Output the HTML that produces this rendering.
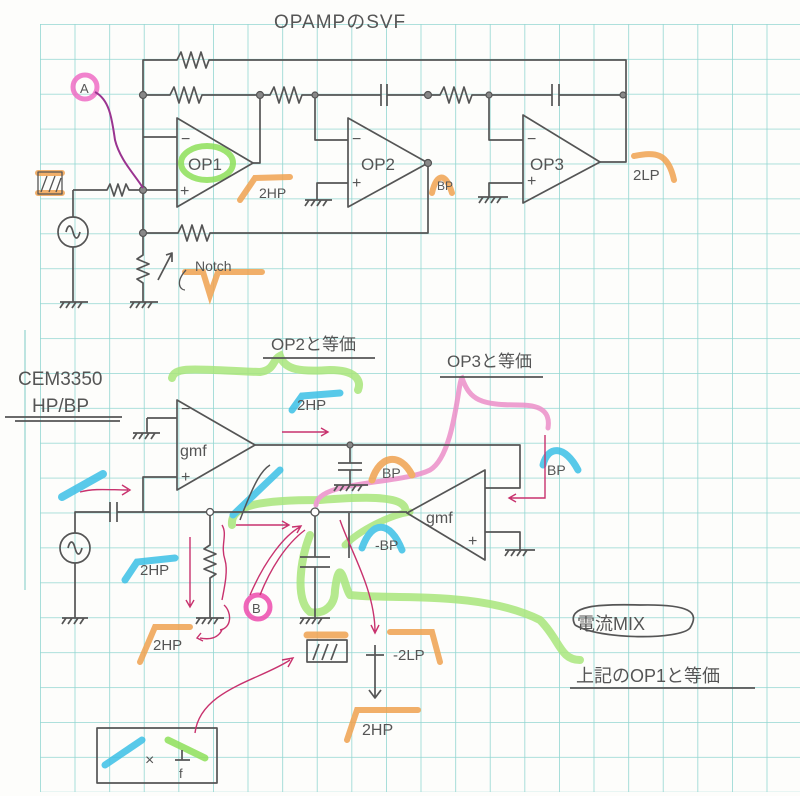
<!DOCTYPE html>
<html><head><meta charset="utf-8"><style>
html,body{margin:0;padding:0;background:#fdfdfb;}
svg{display:block}
text{font-family:"Liberation Sans","Noto Sans CJK JP",sans-serif;fill:#555;}
</style></head><body>
<svg width="800" height="796" viewBox="0 0 800 796" xmlns="http://www.w3.org/2000/svg">
<defs>
<pattern id="g" x="40" y="24" width="34.6" height="34.9" patternUnits="userSpaceOnUse">
<path d="M0 0V34.9M0 0H34.6" stroke="#93d6d2" stroke-width="1.6" fill="none"/>
</pattern>
</defs>
<rect x="40" y="24" width="760" height="768" fill="url(#g)"/>
<line x1="25" y1="330" x2="25" y2="590" stroke="#a8dcd8" stroke-width="1.5"/>

<g fill="none" stroke-linecap="round" opacity="0.85">
<path d="M172 378 C175 365 200 370 260 372 C275 370 272 360 280 356 C285 370 300 372 330 370 C355 370 362 380 358 390" stroke="#a9e67c" stroke-width="8"/>
<path d="M232 525 C230 505 260 500 320 500 C360 497 400 495 405 508" stroke="#a9e67c" stroke-width="8"/>
<path d="M345 545 C360 530 390 515 410 512" stroke="#a9e67c" stroke-width="7"/>
<path d="M310 535 C300 560 295 600 310 612 C325 615 335 605 335 590 C340 550 345 590 350 595 C390 600 480 590 540 620 C560 640 560 660 580 660" stroke="#a9e67c" stroke-width="8"/>
<path d="M316 505 C318 480 400 485 430 470 C455 455 458 380 462 378 C470 400 480 405 520 405 C545 405 550 415 548 428" stroke="#ec8fc9" stroke-width="5"/>
<ellipse cx="207" cy="163" rx="26" ry="17" stroke="#8ee05a" stroke-width="6"/>
<path d="M62 497 L103 474" stroke="#3cc0e6" stroke-width="8"/>
<path d="M292 410 L302 396 L340 393" stroke="#3cc0e6" stroke-width="7"/>
<path d="M125 580 L137 562 L175 558" stroke="#3cc0e6" stroke-width="7"/>
<path d="M233 515 L280 470" stroke="#3cc0e6" stroke-width="7"/>
<path d="M543 465 C548 445 565 445 578 470" stroke="#3cc0e6" stroke-width="7"/>
<path d="M362 548 C372 520 390 520 402 550" stroke="#3cc0e6" stroke-width="7"/>
<path d="M372 480 C380 455 400 452 412 475" stroke="#f0a250" stroke-width="7"/>
<path d="M38 173 H62 M38 193 H62" stroke="#f0a250" stroke-width="6"/>
<path d="M240 200 L255 178 L290 177" stroke="#f0a250" stroke-width="6"/>
<path d="M432 193 C436 175 445 170 452 193" stroke="#f0a250" stroke-width="6"/>
<path d="M634 156 C655 152 668 152 674 180" stroke="#f0a250" stroke-width="6"/>
<path d="M185 272 H203 L210 295 L218 272 H262" stroke="#f0a250" stroke-width="6"/>
<path d="M140 662 L155 627 H190" stroke="#f0a250" stroke-width="6"/>
<path d="M307 635 H345" stroke="#f0a250" stroke-width="7"/>
<path d="M390 632 H432 L440 662" stroke="#f0a250" stroke-width="6"/>
<path d="M347 740 L357 710 H418" stroke="#f0a250" stroke-width="6"/>
<path d="M105 765 L142 740" stroke="#3cc0e6" stroke-width="7"/>
<path d="M168 740 L205 758" stroke="#8ee05a" stroke-width="7"/>
<circle cx="85" cy="87" r="12" stroke="#ee6cc4" stroke-width="5"/>
<circle cx="258" cy="607" r="12" stroke="#ee4cae" stroke-width="5"/>
</g>

<g fill="none" stroke="#555" stroke-width="1.7" stroke-linejoin="round">
<rect x="38" y="172" width="24" height="22" stroke-width="1.3"/>
<path d="M41 192 l6 -16 M49 192 l6 -16 M56 192 l5 -14" stroke-width="1.3"/>
<path d="M143 233 V60 H177 l4 -8 5 16 5 -16 5 16 5 -16 5 16 3 -8 H626 V162 H600"/>
<path d="M143 95 H170 l4 -8 5 16 5 -16 5 16 5 -16 5 16 3 -8 H270 l4 -8 5 16 5 -16 5 16 5 -16 5 16 3 -8 H381 M387 95 H440 l4 -8 5 16 5 -16 5 16 5 -16 5 16 3 -8 H552 M559 95 H623"/>
<path d="M381 84 V106 M387 84 V106 M552 84 V106 M559 84 V106"/>
<path d="M177 118 L253 163 L177 207 Z"/>
<path d="M143 137 H177 M143 190 H177 M253 163 H260 V95"/>
<path d="M73 190 H107 l3 -6 4 12 4 -12 4 12 4 -12 3 6 H143"/>
<path d="M73 190 V217 M73 247 V302"/>
<circle cx="73" cy="232" r="15"/>
<path d="M66 232 c2 -8 5 -8 7 0 s5 8 7 0"/>
<path d="M143 233 H178 l4 -8 5 16 5 -16 5 16 5 -16 5 16 3 -8 H428 V163"/>
<path d="M143 233 V255 l-6 4 12 5 -12 5 12 5 -12 5 6 4 V302"/>
<path d="M158 280 L172 253 M166 255 L172 253 L172 262"/>
<path d="M348 118 L428 163 L348 207 Z"/>
<path d="M315 95 V140 H348 M348 183 H317 V200"/>
<path d="M523 115 L600 162 L523 203 Z"/>
<path d="M489 95 V140 H523 M523 183 H489 V197"/>
<path d="M60 302 H88 M64 302 l-4 6 M70 302 l-4 6 M76 302 l-4 6 M82 302 l-4 6"/>
<path d="M130 302 H158 M134 302 l-4 6 M140 302 l-4 6 M146 302 l-4 6 M152 302 l-4 6"/>
<path d="M305 200 H332 M309 200 l-4 6 M315 200 l-4 6 M321 200 l-4 6 M327 200 l-4 6"/>
<path d="M478 197 H508 M483 197 l-4 6 M489 197 l-4 6 M495 197 l-4 6 M501 197 l-4 6"/>

<path d="M177 400 L255 445 L177 490 Z"/>
<path d="M147 418 H177 M147 418 V433 M133 433 H160 M137 433 l-4 6 M143 433 l-4 6 M149 433 l-4 6 M155 433 l-4 6"/>
<path d="M177 477 H143 V512"/>
<path d="M255 445 H520 V488 H485"/>
<path d="M407 513 L485 470 L485 560 Z"/>
<path d="M485 532 H520 V550 M505 550 H535 M509 550 l-4 6 M515 550 l-4 6 M521 550 l-4 6 M527 550 l-4 6"/>
<path d="M350 445 V463 M338 463 H362 M338 470 H362 M350 470 V485 M334 485 H368 M338 485 l-4 6 M344 485 l-4 6 M350 485 l-4 6 M356 485 l-4 6 M362 485 l-4 6"/>
<path d="M75 533 V512 H110 M117 512 H407 M110 502 V522 M117 502 V522"/>
<circle cx="75" cy="548" r="15"/>
<path d="M68 548 c2 -8 5 -8 7 0 s5 8 7 0"/>
<path d="M75 563 V618 M62 618 H88 M66 618 l-4 6 M72 618 l-4 6 M78 618 l-4 6 M84 618 l-4 6"/>
<path d="M210 512 V545 l-6 4 12 5 -12 5 12 5 -12 5 12 5 -6 4 V618 M196 618 H224 M200 618 l-4 6 M206 618 l-4 6 M212 618 l-4 6 M218 618 l-4 6"/>
<path d="M315 512 V557 M300 557 H330 M300 567 H330 M315 567 V618 M300 618 H330 M304 618 l-4 6 M310 618 l-4 6 M316 618 l-4 6 M322 618 l-4 6"/>
<path d="M349 513 V558"/>
<rect x="307" y="640" width="40" height="22"/>
<path d="M313 660 l6 -16 M322 660 l6 -16 M331 660 l6 -16"/>
<path d="M375 645 V670 M366 655 H384 M375 670 V698 M369 690 L375 698 L381 690"/>
<rect x="97" y="728" width="120" height="55"/>
<path d="M175 760 H190 M182 750 V760"/>
<path d="M5 417 H122 M15 421 H120 M263 358 H375 M440 377 H543 M570 688 H755"/>
<path d="M575 625 C565 605 600 604 640 605 C690 604 700 612 690 628 C680 640 600 640 575 625"/>
</g>
<g fill="#888" stroke="#555" stroke-width="1.2">
<circle cx="143" cy="95" r="3.5"/><circle cx="260" cy="95" r="3.5"/><circle cx="315" cy="95" r="3"/>
<circle cx="428" cy="95" r="3.5"/><circle cx="489" cy="95" r="3"/><circle cx="623" cy="95" r="3"/>
<circle cx="143" cy="190" r="3.5"/><circle cx="143" cy="233" r="3.5"/><circle cx="428" cy="163" r="3.5"/>
<circle cx="350" cy="445" r="3"/>
</g>
<g fill="#fff" stroke="#555" stroke-width="1.3">
<circle cx="210" cy="512" r="3.5"/><circle cx="315" cy="512" r="4"/>
</g>

<g fill="none" stroke="#c8326e" stroke-width="1.4">
<path d="M95 92 C110 100 112 120 115 140 C120 160 135 175 143 188" stroke="#9a3490" stroke-width="2"/>
<path d="M80 492 C95 488 110 490 128 490 M122 485 L130 490 L122 495"/>
<path d="M282 432 H327 M321 428 L328 432 L321 436"/>
<path d="M236 525 H288 M282 521 L289 525 L282 529"/>
<path d="M190 537 V607 M186 600 L190 607 L194 600"/>
<path d="M250 595 C265 560 285 535 300 527 M292 527 L301 526 L297 533"/>
<path d="M260 595 C270 570 285 545 305 530"/>
<path d="M340 520 C350 550 375 590 375 632 M371 625 L375 633 L379 625"/>
<path d="M545 435 V498 H510 M516 494 L509 498 L516 502"/>
<path d="M220 630 C232 628 232 612 224 605 M200 638 C210 640 218 638 222 630 M201 633 L197 638 L203 641"/>
<path d="M195 733 C200 690 260 680 290 660 M282 660 L293 658 L288 667"/>
<path d="M222 525 C228 535 220 545 225 560 C228 570 225 585 222 600"/>
</g>
<path d="M186 270 C175 282 180 290 185 290" fill="none" stroke="#555" stroke-width="1.3"/>
<path d="M240 520 C255 480 262 470 270 465" fill="none" stroke="#555" stroke-width="1.5"/>

<g font-size="16">
<text x="274" y="28" font-size="19" letter-spacing="1">OPAMPのSVF</text>
<text x="188" y="170" font-size="17">OP1</text>
<text x="361" y="170" font-size="17">OP2</text>
<text x="530" y="170" font-size="17">OP3</text>
<text x="181" y="144">−</text><text x="180" y="196">+</text>
<text x="352" y="144">−</text><text x="352" y="188">+</text>
<text x="527" y="144">−</text><text x="527" y="186">+</text>
<text x="259" y="198" font-size="14">2HP</text>
<text x="437" y="190" font-size="12">BP</text>
<text x="633" y="180" font-size="15">2LP</text>
<text x="195" y="271" font-size="14">Notch</text>
<text x="80" y="93" font-size="13">A</text>
<text x="18" y="385" font-size="19">CEM3350</text>
<text x="32" y="412" font-size="19">HP/BP</text>
<text x="271" y="350" font-size="17">OP2と等価</text>
<text x="447" y="367" font-size="17">OP3と等価</text>
<text x="180" y="456" font-size="16">gmf</text>
<text x="181" y="414">−</text><text x="181" y="482">+</text>
<text x="426" y="523" font-size="16">gmf</text>
<text x="468" y="546">+</text>
<text x="297" y="410" font-size="15">2HP</text>
<text x="382" y="478" font-size="14">BP</text>
<text x="547" y="475" font-size="14">BP</text>
<text x="375" y="550" font-size="14">-BP</text>
<text x="140" y="575" font-size="15">2HP</text>
<text x="252" y="613" font-size="13">B</text>
<text x="153" y="650" font-size="15">2HP</text>
<text x="393" y="660" font-size="15">-2LP</text>
<text x="362" y="735" font-size="16">2HP</text>
<text x="577" y="630" font-size="18">電流MIX</text>
<text x="576" y="682" font-size="18">上記のOP1と等価</text>
<text x="145" y="765" font-size="16">×</text>
<text x="179" y="778" font-size="13">f</text>
</g>
</svg>
</body></html>
